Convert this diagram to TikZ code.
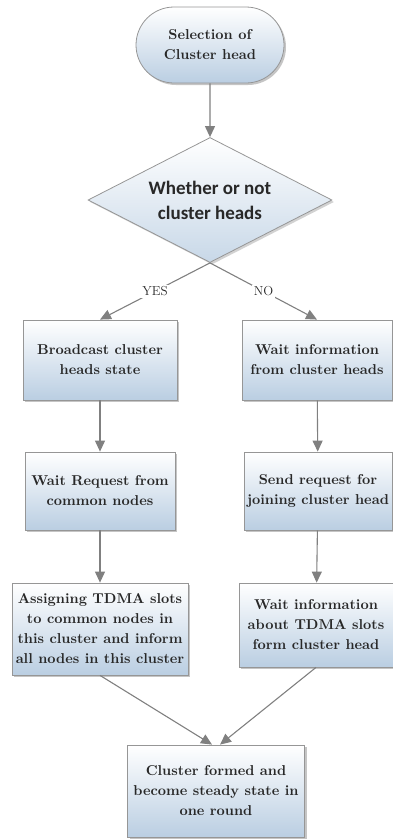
\documentclass[tikz,border=0pt]{standalone}
\usepackage{fontspec}
\newfontfamily\dianode{Carlito}
\newfontfamily\boxfont{lmroman10-bold}[Extension=.otf]
\usepackage{tikz}
\usetikzlibrary{arrows.meta, positioning, shapes.geometric, shapes.misc, shadows}

\definecolor{boxblue}{RGB}{186,206,226}
\definecolor{boxline}{RGB}{150,150,150}
\definecolor{flowgray}{RGB}{128,128,128}
\definecolor{inkgray}{RGB}{40,40,40}

\tikzset{
  procbox/.style={rectangle, draw=boxline, line width=0.8pt, top color=white, bottom color=boxblue,
    drop shadow={shadow xshift=2pt, shadow yshift=-2pt, fill=black!45},
    align=center, text=inkgray, font=\boxfont\fontsize{14.3}{20}\selectfont, inner sep=1pt},
  flow/.style={-{Triangle[width=10pt,length=11pt]}, draw=flowgray, line width=1.1pt},
  answer/.style={fill=white, text=inkgray, font=\rmfamily\fontsize{13}{16}\selectfont, inner sep=2pt}
}

\begin{document}
\begin{tikzpicture}[x=1pt, y=-1pt]
  \useasboundingbox (0,0) rectangle (393,839);

  % Start
  \node[procbox, rounded rectangle, minimum width=150pt, minimum height=76pt] (start) at (210,45)
    {Selection of\\ Cluster head};

  % Decision
  \node[diamond, draw=boxline, line width=0.8pt, top color=white, bottom color=boxblue!80,
    drop shadow={shadow xshift=2pt, shadow yshift=-2pt, fill=black!35},
    minimum width=244pt, minimum height=125pt, inner sep=0pt, aspect=1.95,
    align=center, text=inkgray, font=\dianode\bfseries\fontsize{19}{25}\selectfont] (dec) at (210,200)
    {Whether or not\\ cluster heads};

  % YES branch
  \node[procbox, minimum width=154pt, minimum height=80pt] (yes1) at (100,360) {Broadcast cluster\\ heads state};
  \node[procbox, minimum width=150pt, minimum height=78pt] (yes2) at (100,491) {Wait Request from\\ common nodes};
  \node[procbox, minimum width=176pt, minimum height=92pt] (yes3) at (100,629)
    {Assigning TDMA slots\\ to common nodes in\\ this cluster and inform\\ all nodes in this cluster};

  % NO branch
  \node[procbox, minimum width=150pt, minimum height=80pt] (no1) at (317,360) {Wait information\\ from cluster heads};
  \node[procbox, minimum width=148pt, minimum height=78pt] (no2) at (318,491) {Send request for\\ joining cluster head};
  \node[procbox, minimum width=154pt, minimum height=84pt] (no3) at (316,625)
    {Wait information\\ about TDMA slots\\ form cluster head};

  % End
  \node[procbox, minimum width=177pt, minimum height=92pt] (done) at (216,791)
    {Cluster formed and\\ become steady state in\\ one round};

  % Connectors
  \draw[flow] (start) -- (dec);
  \draw[flow] (dec.south) -- node[answer, pos=0.5] (yes) {YES} (yes1.north);
  \draw[flow] (dec.south) -- node[answer, pos=0.5] (no) {NO} (no1.north);
  \draw[flow] (yes1) -- (yes2);
  \draw[flow] (yes2) -- (yes3);
  \draw[flow] (no1) -- (no2);
  \draw[flow] (no2) -- (no3);
  \draw[flow] (yes3.south) -- ([xshift=-4pt]done.north);
  \draw[flow] (no3.south) -- ([xshift=4pt]done.north);
\end{tikzpicture}
\end{document}
